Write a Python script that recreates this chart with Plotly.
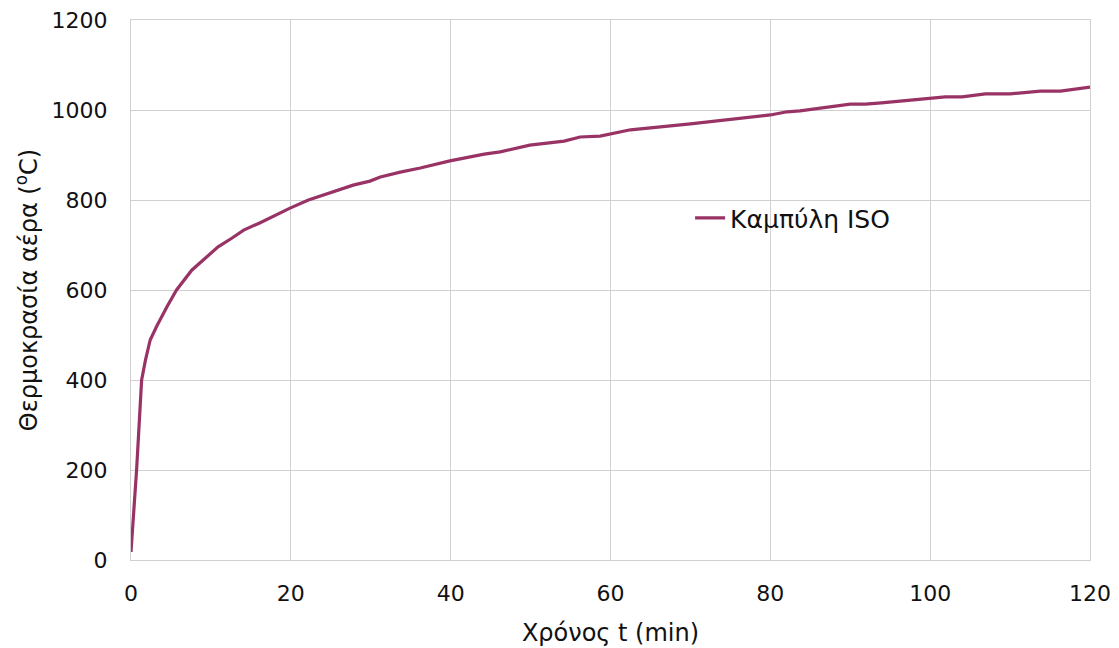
import plotly.graph_objects as go

time_min = [0, 0.7, 1.33, 1.83, 2.4, 3.2, 4.5, 5.7, 7.6, 10.9, 12.6, 14.1, 16.1, 19.9,
            22.2, 27.8, 29.9, 31.2, 33.7, 36.2, 39.9, 44.2, 46.2, 49.9, 54.2, 56.2,
            58.7, 62.5, 70, 80, 82.1, 83.7, 90, 91.9, 93.9, 100, 101.9, 104, 106.9,
            110, 113.8, 116.3, 120]
temp_c = [18, 200, 400, 446, 489, 519, 563, 600, 644, 696, 715, 733, 749, 782,
          800, 833, 842, 851, 862, 871, 887, 902, 907, 922, 931, 940,
          942, 956, 969, 989, 996, 998, 1013, 1013, 1016, 1027, 1029, 1029, 1036,
          1036, 1042, 1042, 1051]
series_name = "Καμπύλη ISO"
x_title = "Χρόνος t (min)"
y_title = "Θερμοκρασία αέρα (<sup>o</sup>C)"
x_ticks = [0, 20, 40, 60, 80, 100, 120]
y_ticks = [0, 200, 400, 600, 800, 1000, 1200]

FONT = "DejaVu Sans"
GRID = "#d0d0d0"
TXT = "#111111"

fig = go.Figure()
fig.add_trace(go.Scatter(x=time_min, y=temp_c, mode="lines", name=series_name,
                         line=dict(color="#993366", width=3.2)))

# white box behind the legend (hides the gridlines like the original)
fig.add_shape(type="rect", xref="paper", yref="paper",
              x0=0.532, x1=0.823, y0=0.565, y1=0.702,
              fillcolor="white", line=dict(width=0), layer="between")

fig.update_layout(
    width=1119, height=648,
    margin=dict(l=123, r=37, t=12, b=96, autoexpand=False),
    paper_bgcolor="white", plot_bgcolor="white",
    font=dict(family=FONT, size=22, color=TXT),
    showlegend=True,
    legend=dict(x=0.583, y=0.633, xanchor="left", yanchor="middle",
                bgcolor="rgba(0,0,0,0)", borderwidth=0,
                font=dict(family=FONT, size=25, color=TXT)),
    xaxis=dict(range=[0, 120], tickvals=x_ticks, showgrid=True, gridcolor=GRID,
               gridwidth=1, showline=True, linecolor=GRID, linewidth=1, mirror=True,
               zeroline=False, ticks="", ticklabelstandoff=14, automargin=False,
               ticklabeloverflow="allow",
               tickfont=dict(family=FONT, size=22, color=TXT),
               title=dict(text=x_title, font=dict(family=FONT, size=24, color=TXT),
                          standoff=18)),
    yaxis=dict(range=[0, 1200], tickvals=y_ticks, showgrid=True, gridcolor=GRID,
               gridwidth=1, showline=True, linecolor=GRID, linewidth=1, mirror=True,
               zeroline=False, ticks="", ticklabelstandoff=18, automargin=False,
               ticklabeloverflow="allow",
               tickfont=dict(family=FONT, size=22, color=TXT),
               title=dict(text=y_title, font=dict(family=FONT, size=24, color=TXT),
                          standoff=7)),
)

fig.write_html("out.html")
